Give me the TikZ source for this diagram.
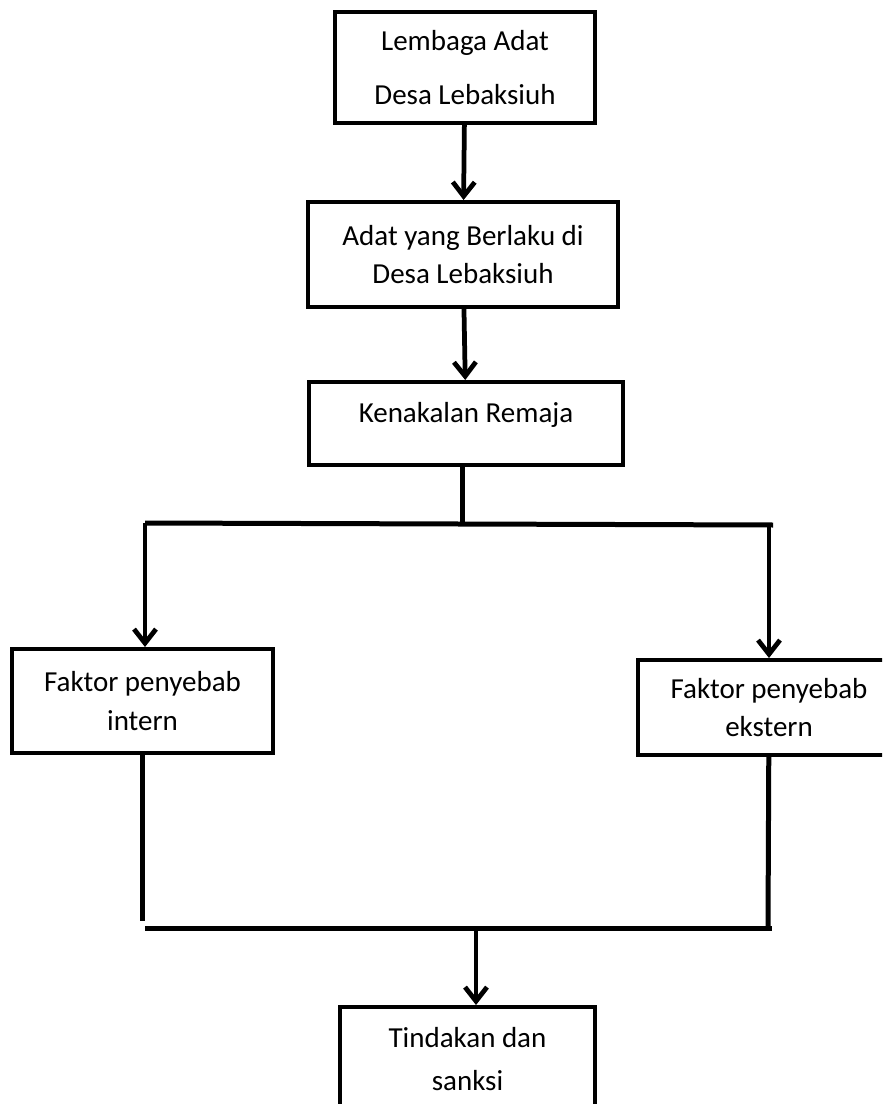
\documentclass[tikz,border=0pt]{standalone}
\usepackage{fontspec}
\setmainfont{Carlito}
\usetikzlibrary{arrows.meta}

\tikzset{
  box/.style={draw, line width=0.08cm, align=center, inner sep=0pt,
    font=\fontsize{16.5}{22}\selectfont},
  flow/.style={line width=0.095cm, -{Straight Barb[length=8pt, width=12.5pt]}},
  link/.style={line width=0.1cm}
}

\begin{document}
\begin{tikzpicture}[x=0.02cm, y=-0.02cm]
\useasboundingbox (0,0) rectangle (882,1104);
\clip (0,0) rectangle (882,1104);
% boxes
\node[box, minimum width=5.2cm, minimum height=2.22cm,
  font=\fontsize{16.5}{30.5}\selectfont] (lembaga) at (465,67.5) {Lembaga Adat\\Desa Lebaksiuh};
\node[box, minimum width=6.2cm, minimum height=2.1cm] (adat) at (463,254.5) {Adat yang Berlaku di\\Desa Lebaksiuh};
\node[box, minimum width=6.28cm, minimum height=1.66cm, text depth=0.45cm] (kenakalan) at (466,423.5) {Kenakalan Remaja};
\node[box, minimum width=5.22cm, minimum height=2.08cm] (intern) at (142.5,701) {Faktor penyebab\\intern};
\node[box, minimum width=5.24cm, minimum height=1.9cm] (ekstern) at (769,707.5) {Faktor penyebab\\ekstern};
\node[box, minimum width=5.1cm, minimum height=2.08cm,
  font=\fontsize{16.5}{24}\selectfont] (sanksi) at (467.5,1059) {Tindakan dan\\sanksi};
% branching points
\coordinate (split) at (462,524);
\coordinate (splitL) at (145,523);
\coordinate (splitR) at (773,525);
\coordinate (joinL) at (142,921);
\coordinate (joinR) at (768,927);
\coordinate (join) at (476,928);
% arrows
\draw[flow] (lembaga) -- (adat);
\draw[flow] (adat) -- (kenakalan);
\draw[link] (kenakalan.south -| split) -- (split);
\draw[link] (splitL) -- (splitR);
\draw[flow] (splitL) -- (splitL |- intern.north);
\draw[flow] (splitR -| ekstern) -- (ekstern);
\draw[link] (intern.south -| joinL) -- (joinL);
\draw[link] (ekstern) -- (joinR);
\draw[link] (145,928) coordinate (joinA) -- (772,928);
\draw[flow] (join) -- (join |- sanksi.north);
\end{tikzpicture}
\end{document}
